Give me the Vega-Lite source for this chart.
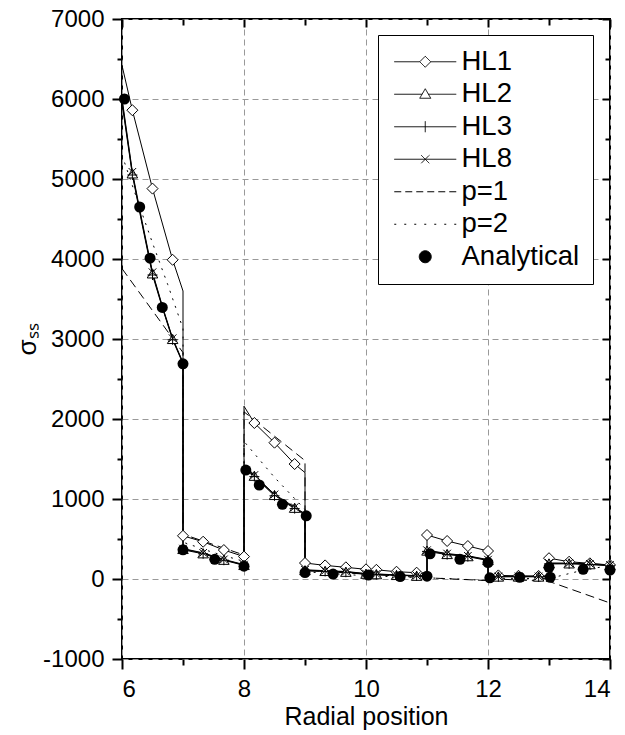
{
  "$schema": "https://vega.github.io/schema/vega-lite/v6.json",
  "width": 488,
  "height": 640,
  "autosize": "none",
  "padding": {"left": 122, "top": 19, "right": 15, "bottom": 76},
  "config": {
    "font": "Liberation Sans",
    "view": {"stroke": "black", "strokeWidth": 2},
    "axis": {"labelFont": "Liberation Sans", "titleFont": "Liberation Sans", "labelColor": "black", "titleColor": "black", "tickColor": "black", "domain": false, "grid": false, "tickWidth": 1.5}
  },
  "datasets": {
    "hl": [
      {"series":"HL1","x":6,"y":6420},{"series":"HL1","x":6.17,"y":5860},{"series":"HL1","x":6.5,"y":4880},{"series":"HL1","x":6.83,"y":3990},{"series":"HL1","x":7,"y":3600},{"series":"HL1","x":7,"y":540},{"series":"HL1","x":7.33,"y":466},{"series":"HL1","x":7.67,"y":362},{"series":"HL1","x":8,"y":280},{"series":"HL1","x":8,"y":2160},{"series":"HL1","x":8.17,"y":1950},{"series":"HL1","x":8.5,"y":1704},{"series":"HL1","x":8.83,"y":1437},{"series":"HL1","x":9,"y":1330},{"series":"HL1","x":9,"y":200},{"series":"HL1","x":9.33,"y":170},{"series":"HL1","x":9.67,"y":146},{"series":"HL1","x":10,"y":121},{"series":"HL1","x":10.17,"y":115},{"series":"HL1","x":10.5,"y":91},{"series":"HL1","x":10.83,"y":79},{"series":"HL1","x":11,"y":70},{"series":"HL1","x":11,"y":550},{"series":"HL1","x":11.33,"y":475},{"series":"HL1","x":11.67,"y":412},{"series":"HL1","x":12,"y":350},{"series":"HL1","x":12,"y":45},{"series":"HL1","x":12.17,"y":45},{"series":"HL1","x":12.5,"y":40},{"series":"HL1","x":12.83,"y":38},{"series":"HL1","x":13,"y":38},{"series":"HL1","x":13,"y":260},{"series":"HL1","x":13.33,"y":216},{"series":"HL1","x":13.67,"y":196},{"series":"HL1","x":14,"y":175},
      {"series":"HL2","x":6,"y":5980},{"series":"HL2","x":6.17,"y":5070},{"series":"HL2","x":6.33,"y":4450},{"series":"HL2","x":6.5,"y":3820},{"series":"HL2","x":6.67,"y":3380},{"series":"HL2","x":6.83,"y":3000},{"series":"HL2","x":7,"y":2700},{"series":"HL2","x":7,"y":375},{"series":"HL2","x":7.33,"y":321},{"series":"HL2","x":7.67,"y":240},{"series":"HL2","x":8,"y":175},{"series":"HL2","x":8,"y":1390},{"series":"HL2","x":8.17,"y":1290},{"series":"HL2","x":8.5,"y":1050},{"series":"HL2","x":8.83,"y":890},{"series":"HL2","x":9,"y":810},{"series":"HL2","x":9,"y":110},{"series":"HL2","x":9.33,"y":100},{"series":"HL2","x":9.67,"y":90},{"series":"HL2","x":10,"y":65},{"series":"HL2","x":10.17,"y":60},{"series":"HL2","x":10.5,"y":50},{"series":"HL2","x":10.83,"y":40},{"series":"HL2","x":11,"y":35},{"series":"HL2","x":11,"y":355},{"series":"HL2","x":11.33,"y":312},{"series":"HL2","x":11.67,"y":285},{"series":"HL2","x":12,"y":237},{"series":"HL2","x":12,"y":30},{"series":"HL2","x":12.17,"y":30},{"series":"HL2","x":12.5,"y":30},{"series":"HL2","x":12.83,"y":30},{"series":"HL2","x":13,"y":30},{"series":"HL2","x":13,"y":195},{"series":"HL2","x":13.33,"y":195},{"series":"HL2","x":13.67,"y":185},{"series":"HL2","x":14,"y":170},
      {"series":"HL3","x":6,"y":5950},{"series":"HL3","x":6.17,"y":5050},{"series":"HL3","x":6.33,"y":4430},{"series":"HL3","x":6.5,"y":3800},{"series":"HL3","x":6.67,"y":3370},{"series":"HL3","x":6.83,"y":2990},{"series":"HL3","x":7,"y":2690},{"series":"HL3","x":7,"y":365},{"series":"HL3","x":7.33,"y":315},{"series":"HL3","x":7.67,"y":235},{"series":"HL3","x":8,"y":170},{"series":"HL3","x":8,"y":1375},{"series":"HL3","x":8.17,"y":1280},{"series":"HL3","x":8.5,"y":1040},{"series":"HL3","x":8.83,"y":880},{"series":"HL3","x":9,"y":800},{"series":"HL3","x":9,"y":100},{"series":"HL3","x":9.33,"y":95},{"series":"HL3","x":9.67,"y":85},{"series":"HL3","x":10,"y":60},{"series":"HL3","x":10.17,"y":55},{"series":"HL3","x":10.5,"y":45},{"series":"HL3","x":10.83,"y":38},{"series":"HL3","x":11,"y":32},{"series":"HL3","x":11,"y":345},{"series":"HL3","x":11.33,"y":305},{"series":"HL3","x":11.67,"y":280},{"series":"HL3","x":12,"y":230},{"series":"HL3","x":12,"y":28},{"series":"HL3","x":12.17,"y":28},{"series":"HL3","x":12.5,"y":28},{"series":"HL3","x":12.83,"y":28},{"series":"HL3","x":13,"y":28},{"series":"HL3","x":13,"y":188},{"series":"HL3","x":13.33,"y":190},{"series":"HL3","x":13.67,"y":180},{"series":"HL3","x":14,"y":165},
      {"series":"HL8","x":6,"y":6010},{"series":"HL8","x":6.17,"y":5090},{"series":"HL8","x":6.33,"y":4470},{"series":"HL8","x":6.5,"y":3835},{"series":"HL8","x":6.67,"y":3390},{"series":"HL8","x":6.83,"y":3010},{"series":"HL8","x":7,"y":2705},{"series":"HL8","x":7,"y":380},{"series":"HL8","x":7.33,"y":327},{"series":"HL8","x":7.67,"y":245},{"series":"HL8","x":8,"y":180},{"series":"HL8","x":8,"y":1400},{"series":"HL8","x":8.17,"y":1300},{"series":"HL8","x":8.5,"y":1058},{"series":"HL8","x":8.83,"y":898},{"series":"HL8","x":9,"y":815},{"series":"HL8","x":9,"y":115},{"series":"HL8","x":9.33,"y":104},{"series":"HL8","x":9.67,"y":94},{"series":"HL8","x":10,"y":68},{"series":"HL8","x":10.17,"y":63},{"series":"HL8","x":10.5,"y":52},{"series":"HL8","x":10.83,"y":42},{"series":"HL8","x":11,"y":37},{"series":"HL8","x":11,"y":360},{"series":"HL8","x":11.33,"y":318},{"series":"HL8","x":11.67,"y":290},{"series":"HL8","x":12,"y":242},{"series":"HL8","x":12,"y":32},{"series":"HL8","x":12.17,"y":32},{"series":"HL8","x":12.5,"y":32},{"series":"HL8","x":12.83,"y":32},{"series":"HL8","x":13,"y":32},{"series":"HL8","x":13,"y":200},{"series":"HL8","x":13.33,"y":198},{"series":"HL8","x":13.67,"y":190},{"series":"HL8","x":14,"y":175}
    ],
    "pl": [
      {"series":"p=1","x":6,"y":3880},{"series":"p=1","x":7,"y":2830},{"series":"p=1","x":7,"y":560},{"series":"p=1","x":8,"y":300},{"series":"p=1","x":8,"y":2090},{"series":"p=1","x":9,"y":1480},{"series":"p=1","x":9,"y":110},{"series":"p=1","x":10,"y":60},{"series":"p=1","x":11,"y":15},{"series":"p=1","x":12,"y":-20},{"series":"p=1","x":12,"y":5},{"series":"p=1","x":13,"y":-30},{"series":"p=1","x":14,"y":-300},
      {"series":"p=2","x":6,"y":5300},{"series":"p=2","x":6.25,"y":4740},{"series":"p=2","x":6.5,"y":4200},{"series":"p=2","x":6.75,"y":3680},{"series":"p=2","x":7,"y":3130},{"series":"p=2","x":7,"y":460},{"series":"p=2","x":7.5,"y":330},{"series":"p=2","x":8,"y":220},{"series":"p=2","x":8,"y":1720},{"series":"p=2","x":8.5,"y":1270},{"series":"p=2","x":9,"y":870},{"series":"p=2","x":9,"y":90},{"series":"p=2","x":10,"y":40},{"series":"p=2","x":11,"y":15},{"series":"p=2","x":11.5,"y":0},{"series":"p=2","x":12,"y":-20},{"series":"p=2","x":12,"y":10},{"series":"p=2","x":13,"y":5},{"series":"p=2","x":13.5,"y":100},{"series":"p=2","x":14,"y":170}
    ],
    "mk": [
      {"series":"HL1","x":6.17,"y":5860},{"series":"HL1","x":6.5,"y":4880},{"series":"HL1","x":6.83,"y":3990},{"series":"HL1","x":7,"y":540},{"series":"HL1","x":7.33,"y":466},{"series":"HL1","x":7.67,"y":362},{"series":"HL1","x":8,"y":280},{"series":"HL1","x":8.17,"y":1950},{"series":"HL1","x":8.5,"y":1704},{"series":"HL1","x":8.83,"y":1437},{"series":"HL1","x":9,"y":200},{"series":"HL1","x":9.33,"y":170},{"series":"HL1","x":9.67,"y":146},{"series":"HL1","x":10,"y":121},{"series":"HL1","x":10.17,"y":115},{"series":"HL1","x":10.5,"y":91},{"series":"HL1","x":10.83,"y":79},{"series":"HL1","x":11,"y":550},{"series":"HL1","x":11.33,"y":475},{"series":"HL1","x":11.67,"y":412},{"series":"HL1","x":12,"y":350},{"series":"HL1","x":12.17,"y":45},{"series":"HL1","x":12.5,"y":40},{"series":"HL1","x":12.83,"y":38},{"series":"HL1","x":13,"y":260},{"series":"HL1","x":13.33,"y":216},{"series":"HL1","x":13.67,"y":196},{"series":"HL1","x":14,"y":175},
      {"series":"HL2","x":6.17,"y":5070},{"series":"HL2","x":6.5,"y":3820},{"series":"HL2","x":6.83,"y":3000},{"series":"HL2","x":7,"y":375},{"series":"HL2","x":7.33,"y":321},{"series":"HL2","x":7.67,"y":240},{"series":"HL2","x":8,"y":175},{"series":"HL2","x":8.17,"y":1290},{"series":"HL2","x":8.5,"y":1050},{"series":"HL2","x":8.83,"y":890},{"series":"HL2","x":9,"y":110},{"series":"HL2","x":9.33,"y":100},{"series":"HL2","x":9.67,"y":90},{"series":"HL2","x":10,"y":65},{"series":"HL2","x":10.17,"y":60},{"series":"HL2","x":10.5,"y":50},{"series":"HL2","x":10.83,"y":40},{"series":"HL2","x":11,"y":355},{"series":"HL2","x":11.33,"y":312},{"series":"HL2","x":11.67,"y":285},{"series":"HL2","x":12,"y":237},{"series":"HL2","x":12.17,"y":30},{"series":"HL2","x":12.5,"y":30},{"series":"HL2","x":12.83,"y":30},{"series":"HL2","x":13,"y":195},{"series":"HL2","x":13.33,"y":195},{"series":"HL2","x":13.67,"y":185},{"series":"HL2","x":14,"y":170},
      {"series":"HL3","x":6.17,"y":5050},{"series":"HL3","x":6.5,"y":3800},{"series":"HL3","x":6.83,"y":2990},{"series":"HL3","x":7,"y":365},{"series":"HL3","x":7.33,"y":315},{"series":"HL3","x":7.67,"y":235},{"series":"HL3","x":8,"y":170},{"series":"HL3","x":8.17,"y":1280},{"series":"HL3","x":8.5,"y":1040},{"series":"HL3","x":8.83,"y":880},{"series":"HL3","x":9,"y":100},{"series":"HL3","x":9.33,"y":95},{"series":"HL3","x":9.67,"y":85},{"series":"HL3","x":10,"y":60},{"series":"HL3","x":10.17,"y":55},{"series":"HL3","x":10.5,"y":45},{"series":"HL3","x":10.83,"y":38},{"series":"HL3","x":11,"y":345},{"series":"HL3","x":11.33,"y":305},{"series":"HL3","x":11.67,"y":280},{"series":"HL3","x":12,"y":230},{"series":"HL3","x":12.17,"y":28},{"series":"HL3","x":12.5,"y":28},{"series":"HL3","x":12.83,"y":28},{"series":"HL3","x":13,"y":188},{"series":"HL3","x":13.33,"y":190},{"series":"HL3","x":13.67,"y":180},{"series":"HL3","x":14,"y":165},
      {"series":"HL8","x":6.17,"y":5090},{"series":"HL8","x":6.5,"y":3835},{"series":"HL8","x":6.83,"y":3010},{"series":"HL8","x":7,"y":380},{"series":"HL8","x":7.33,"y":327},{"series":"HL8","x":7.67,"y":245},{"series":"HL8","x":8,"y":180},{"series":"HL8","x":8.17,"y":1300},{"series":"HL8","x":8.5,"y":1058},{"series":"HL8","x":8.83,"y":898},{"series":"HL8","x":9,"y":115},{"series":"HL8","x":9.33,"y":104},{"series":"HL8","x":9.67,"y":94},{"series":"HL8","x":10,"y":68},{"series":"HL8","x":10.17,"y":63},{"series":"HL8","x":10.5,"y":52},{"series":"HL8","x":10.83,"y":42},{"series":"HL8","x":11,"y":360},{"series":"HL8","x":11.33,"y":318},{"series":"HL8","x":11.67,"y":290},{"series":"HL8","x":12,"y":242},{"series":"HL8","x":12.17,"y":32},{"series":"HL8","x":12.5,"y":32},{"series":"HL8","x":12.83,"y":32},{"series":"HL8","x":13,"y":200},{"series":"HL8","x":13.33,"y":198},{"series":"HL8","x":13.67,"y":190},{"series":"HL8","x":14,"y":175}
    ],
    "an": [
      {"series":"Analytical","x":6.04,"y":6000},{"series":"Analytical","x":6.29,"y":4650},{"series":"Analytical","x":6.46,"y":4010},{"series":"Analytical","x":6.66,"y":3395},{"series":"Analytical","x":7.0,"y":2690},{"series":"Analytical","x":7.0,"y":365},{"series":"Analytical","x":7.52,"y":246},{"series":"Analytical","x":8.0,"y":160},{"series":"Analytical","x":8.03,"y":1362},{"series":"Analytical","x":8.25,"y":1175},{"series":"Analytical","x":8.63,"y":933},{"series":"Analytical","x":9.02,"y":790},{"series":"Analytical","x":9.0,"y":80},{"series":"Analytical","x":9.46,"y":62},{"series":"Analytical","x":10.04,"y":50},{"series":"Analytical","x":10.56,"y":30},{"series":"Analytical","x":11.0,"y":35},{"series":"Analytical","x":11.05,"y":315},{"series":"Analytical","x":11.54,"y":246},{"series":"Analytical","x":12.0,"y":205},{"series":"Analytical","x":12.03,"y":15},{"series":"Analytical","x":12.52,"y":22},{"series":"Analytical","x":13.02,"y":22},{"series":"Analytical","x":13.0,"y":146},{"series":"Analytical","x":13.56,"y":121},{"series":"Analytical","x":14.0,"y":112}
    ]
  },
  "resolve": {"axis": {"x": "independent", "y": "independent"}},
  "layer": [
    {
      "data": {"name": "hl"},
      "mark": {"type": "line", "strokeWidth": 1, "clip": false},
      "encoding": {
        "x": {"field": "x", "type": "quantitative", "scale": {"domain": [6, 14], "nice": false, "zero": false},
          "axis": {"orient": "bottom", "values": [6, 8, 10, 12, 14], "tickSize": 10, "tickWidth": 2, "labelFontSize": 24, "labelPadding": 8, "title": "Radial position", "titleFontSize": 25, "titleFontWeight": "normal", "titlePadding": 3, "grid": true, "gridDash": [6, 4], "gridColor": "#999999", "gridWidth": 1}},
        "y": {"field": "y", "type": "quantitative", "scale": {"domain": [-1000, 7000], "nice": false, "zero": false},
          "axis": {"orient": "left", "values": [-1000, 0, 1000, 2000, 3000, 4000, 5000, 6000, 7000], "labelExpr": "datum.value < 0 ? '-' + abs(datum.value) : '' + datum.value", "tickSize": 10, "tickWidth": 2, "labelFontSize": 24, "labelPadding": 8, "title": "σₛₛ", "titleFontSize": 26, "titleFontWeight": "normal", "titlePadding": 2, "grid": true, "gridDash": [6, 4], "gridColor": "#999999", "gridWidth": 1}},
        "color": {"field": "series", "type": "nominal",
          "scale": {"domain": ["HL1", "HL2", "HL3", "HL8", "p=1", "p=2", "Analytical"], "range": ["black", "black", "black", "black", "black", "black", "black"]},
          "legend": {
            "orient": "none", "legendX": 256, "legendY": 16, "title": null,
            "strokeColor": "black", "fillColor": "white", "padding": 13,
            "labelFont": "Liberation Sans", "labelFontSize": 27.5, "labelColor": "black", "labelOffset": 43,
            "symbolSize": 400, "rowPadding": 3.5,
            "encode": {
              "symbols": {
                "update": {
                  "shape": {"signal": "datum.value === 'HL1' ? 'M-1.05,0H1.5M2.6,0H5.15M2.05,-0.55L2.6,0L2.05,0.55L1.5,0Z' : datum.value === 'HL2' ? 'M-1.05,0H1.73M2.37,0H5.15M2.05,-0.55L2.6,0.4L1.5,0.4Z' : datum.value === 'HL3' ? 'M-1.05,0H5.15M2.05,-0.55V0.55' : datum.value === 'HL8' ? 'M-1.05,0H5.15M1.65,-0.4L2.45,0.4M1.65,0.4L2.45,-0.4' : datum.value === 'Analytical' ? 'M1.45,0A0.6,0.6 0 1,0 2.65,0A0.6,0.6 0 1,0 1.45,0Z' : 'M-1.05,0H5.15'"},
                  "fill": {"signal": "datum.value === 'Analytical' ? 'black' : (datum.value === 'HL1' || datum.value === 'HL2') ? 'white' : 'transparent'"},
                  "stroke": {"value": "black"},
                  "strokeWidth": {"value": 1},
                  "strokeDash": {"signal": "datum.value === 'p=1' ? [7, 4] : datum.value === 'p=2' ? [2, 8] : [1, 0]"},
                  "size": {"value": 400},
                  "opacity": {"value": 1}
                }
              }
            }
          }
        },
        "order": {"value": null}
      }
    },
    {
      "data": {"name": "pl"},
      "mark": {"type": "line", "strokeWidth": 1, "color": "black", "clip": false},
      "encoding": {
        "x": {"field": "x", "type": "quantitative", "scale": {"domain": [6, 14], "nice": false, "zero": false},
          "axis": {"orient": "bottom", "values": [7, 9, 11, 13], "tickSize": 6, "tickWidth": 2, "labels": false, "title": null, "grid": false}},
        "y": {"field": "y", "type": "quantitative", "scale": {"domain": [-1000, 7000], "nice": false, "zero": false},
          "axis": {"orient": "left", "values": [-500, 500, 1500, 2500, 3500, 4500, 5500, 6500], "tickSize": 5, "tickWidth": 2, "labels": false, "title": null, "grid": false}},
        "strokeDash": {"field": "series", "type": "nominal", "scale": {"domain": ["p=1", "p=2"], "range": [[9, 5], [2, 6]]}, "legend": null},
        "detail": {"field": "series"},
        "order": {"value": null}
      }
    },
    {
      "data": {"name": "mk"},
      "mark": {"type": "point", "stroke": "black", "strokeWidth": 1, "opacity": 1, "clip": false},
      "encoding": {
        "x": {"field": "x", "type": "quantitative", "scale": {"domain": [6, 14], "nice": false, "zero": false},
          "axis": {"orient": "top", "values": [6, 8, 10, 12, 14], "tickSize": 8, "tickWidth": 2, "offset": -8, "labels": false, "title": null, "grid": false}},
        "y": {"field": "y", "type": "quantitative", "scale": {"domain": [-1000, 7000], "nice": false, "zero": false},
          "axis": {"orient": "right", "values": [-1000, 0, 1000, 2000, 3000, 4000, 5000, 6000, 7000], "tickSize": 8, "tickWidth": 2, "offset": -8, "labels": false, "title": null, "grid": false}},
        "shape": {"field": "series", "type": "nominal", "scale": {"domain": ["HL1", "HL2", "HL3", "HL8"], "range": ["diamond", "triangle-up", "M0,-1V1M-1,0H1", "M-0.8,-0.8L0.8,0.8M-0.8,0.8L0.8,-0.8"]}, "legend": null},
        "fill": {"field": "series", "type": "nominal", "scale": {"domain": ["HL1", "HL2", "HL3", "HL8"], "range": ["white", "white", "transparent", "transparent"]}, "legend": null},
        "size": {"field": "series", "type": "nominal", "scale": {"domain": ["HL1", "HL2", "HL3", "HL8"], "range": [121, 90, 100, 100]}, "legend": null}
      }
    },
    {
      "data": {"name": "an"},
      "mark": {"type": "point", "shape": "circle", "filled": true, "color": "black", "size": 121, "opacity": 1, "clip": false},
      "encoding": {
        "x": {"field": "x", "type": "quantitative", "scale": {"domain": [6, 14], "nice": false, "zero": false},
          "axis": {"orient": "top", "values": [7, 9, 11, 13], "tickSize": 6, "tickWidth": 2, "offset": -6, "labels": false, "title": null, "grid": false}},
        "y": {"field": "y", "type": "quantitative", "scale": {"domain": [-1000, 7000], "nice": false, "zero": false},
          "axis": {"orient": "right", "values": [-500, 500, 1500, 2500, 3500, 4500, 5500, 6500], "tickSize": 5, "tickWidth": 2, "offset": -5, "labels": false, "title": null, "grid": false}}
      }
    }
  ]
}
